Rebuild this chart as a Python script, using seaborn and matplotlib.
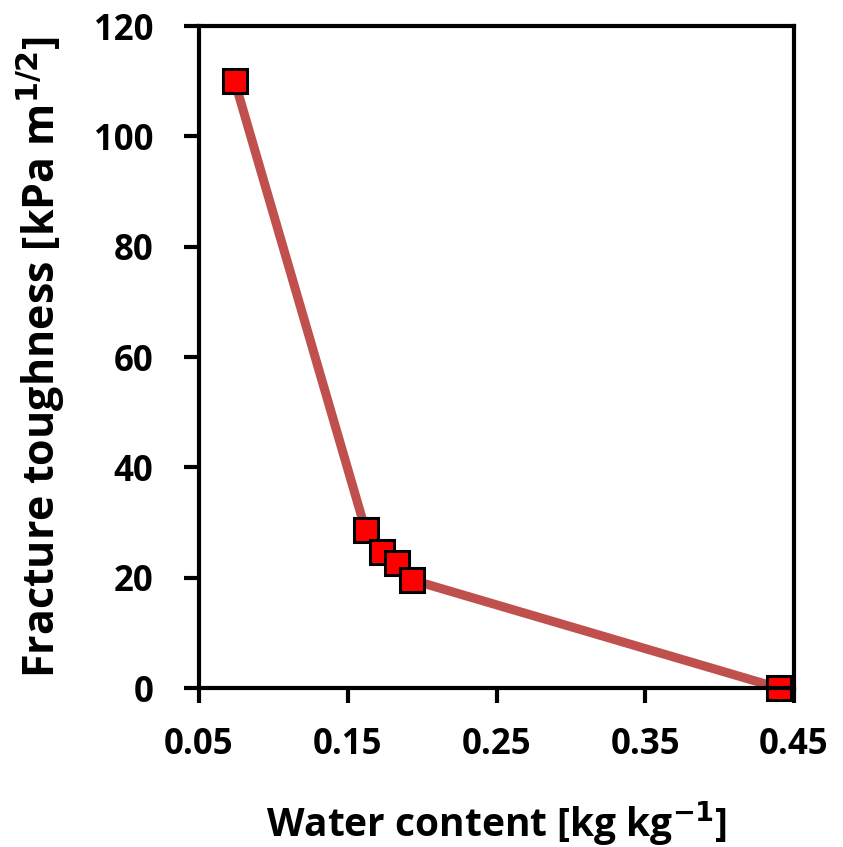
import matplotlib
matplotlib.use("Agg")
import matplotlib.pyplot as plt
import seaborn as sns
import pandas as pd

# Fracture toughness measured at different water contents
water_content = [0.074, 0.162, 0.173, 0.183, 0.193, 0.440]
toughness = [110.0, 28.6, 24.7, 22.7, 19.6, 0.0]
x_ticks = [0.05, 0.15, 0.25, 0.35, 0.45]
y_ticks = [0, 20, 40, 60, 80, 100, 120]

df = pd.DataFrame({"w": water_content, "k": toughness})

sns.set_style("white")
plt.rcParams["font.family"] = ["Open Sans", "DejaVu Sans"]
plt.rcParams["font.weight"] = "bold"
plt.rcParams["text.color"] = "black"
plt.rcParams["axes.labelcolor"] = "black"
plt.rcParams["xtick.color"] = "black"
plt.rcParams["ytick.color"] = "black"

fig = plt.figure(figsize=(8.43, 8.47), dpi=100)
ax = fig.add_axes([199 / 843, 1 - 688 / 847, (794 - 199) / 843, (688 - 26) / 847])

sns.lineplot(data=df, x="w", y="k", ax=ax, color="#C0504D", linewidth=6.5,
             marker="s", markersize=17, markerfacecolor="#FF0000",
             markeredgecolor="black", markeredgewidth=2.2, clip_on=False)

ax.set_xlim(0.05, 0.45)
ax.set_ylim(0, 120)
ax.set_xticks(x_ticks)
ax.set_yticks(y_ticks)
ax.set_xticklabels([f"{t:.2f}" for t in x_ticks])
ax.set_yticklabels([str(t) for t in y_ticks])

for s in ax.spines.values():
    s.set_visible(True)
    s.set_color("black")
    s.set_linewidth(3)

ax.tick_params(axis="both", which="major", direction="out", length=11, width=3,
               color="black", labelcolor="black", labelsize=25,
               top=False, right=False, bottom=True, left=True)
ax.tick_params(axis="y", pad=22)
ax.tick_params(axis="x", pad=17)
for lbl in ax.get_xticklabels() + ax.get_yticklabels():
    lbl.set_fontweight("bold")

ax.set_xlabel("Water content [kg kg$^{\\mathbf{-1}}$]", fontsize=28,
              fontweight="bold", labelpad=26)
ax.set_ylabel("Fracture toughness [kPa m$^{\\mathbf{1/2}}$]", fontsize=31,
              fontweight="bold", labelpad=19)

fig.savefig("out.png", dpi=100, facecolor="white")
